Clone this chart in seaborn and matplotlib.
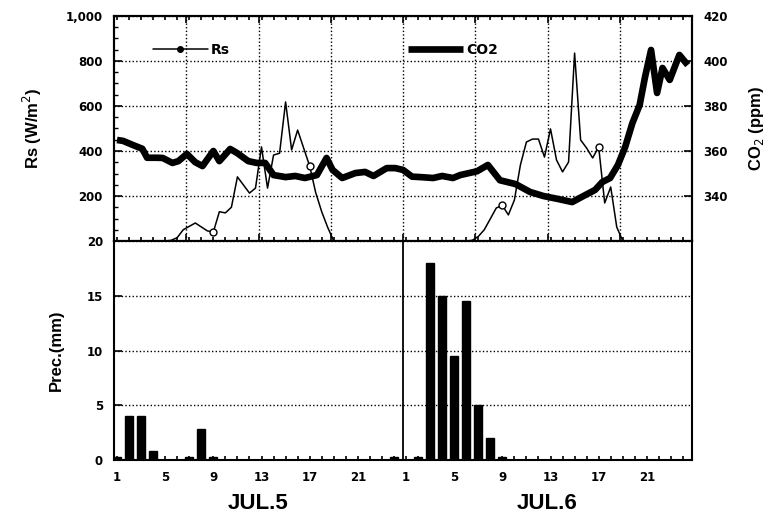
import matplotlib
matplotlib.use('Agg')
import matplotlib.pyplot as plt
import pandas as pd
import seaborn as sns
from matplotlib.lines import Line2D
from matplotlib.ticker import FixedLocator

# ---------------- data (hour index: 1-24 = JUL.5, 25-48 = JUL.6) ----------------
rs_time = [1, 2, 3, 4, 5, 5.5, 6, 6.5, 7.5, 8.5, 9, 9.5, 10, 10.5, 11, 12, 12.5, 13, 13.5,
           14, 14.5, 15, 15.5, 16, 16.5, 17, 17.5, 18, 18.5, 19, 20, 21, 22, 23, 24, 25, 26,
           27, 28, 29, 30, 30.5, 31, 31.5, 32.5, 33, 33.5, 34, 34.5, 35, 35.5, 36, 36.5, 37,
           37.5, 38, 38.5, 39, 39.5, 40, 40.5, 41, 41.5, 42, 42.5, 43, 44, 45, 46, 47, 48]
rs_value = [0, 0, 0, 0, 0, 3, 15, 50, 80, 45, 40, 130, 125, 150, 285, 213, 235, 418, 235,
            382, 390, 618, 405, 493, 413, 333, 215, 130, 60, 0, 0, 0, 0, 0, 0, 0, 0,
            0, 0, 0, 0, 3, 20, 50, 147, 158, 116, 182, 338, 440, 453, 453, 373, 498,
            360, 307, 351, 835, 449, 413, 369, 418, 169, 240, 62, 0, 0, 0, 0, 0, 0]
rs_marker_hours = [9, 17, 33, 41]

co2_time = [1.0, 1.5, 2.3, 3.1, 3.5, 4.3, 4.8, 5.6, 6.1, 6.8, 7.5, 8.1, 9.0, 9.5, 10.4, 11.0,
            11.9, 12.6, 13.3, 14.0, 15.0, 15.8, 16.6, 17.6, 18.4, 18.9, 19.7, 20.8, 21.6,
            22.3, 23.4, 24.1, 24.75, 25.5, 26.2, 27.25, 28.0, 28.9, 29.5, 30.9, 31.8, 32.8,
            34.1, 35.3, 36.4, 37.6, 38.8, 39.6, 40.7, 41.3, 41.95, 42.6, 43.2, 43.8, 44.4,
            44.85, 45.35, 45.85, 46.3, 46.9, 47.7, 48.4]
co2_value = [364.9, 364.5, 362.7, 361.0, 357.0, 357.0, 356.9, 354.7, 355.5, 358.7, 355.0,
             353.3, 360.0, 355.5, 360.9, 359.0, 355.5, 354.7, 354.7, 349.3, 348.4, 348.9,
             348.0, 349.3, 356.9, 351.6, 348.0, 350.2, 350.7, 348.9, 352.4, 352.4, 351.6,
             348.6, 348.4, 348.0, 348.9, 348.0, 349.3, 351.0, 353.8, 347.0, 345.3, 341.8,
             340.0, 338.7, 337.3, 339.6, 342.7, 346.2, 348.0, 353.8, 361.8, 372.4, 380.4,
             392.9, 404.9, 385.8, 396.9, 391.6, 402.7, 398.2]

prec_hour = [1, 2, 3, 4, 7, 8, 9, 24, 26, 27, 28, 29, 30, 31, 32, 33]
prec_mm = [0.3, 4.0, 4.0, 0.8, 0.3, 2.8, 0.3, 0.3, 0.3, 18.0, 15.0, 9.5, 14.5, 5.0, 2.0, 0.3]

hour_ticks = [1, 5, 9, 13, 17, 21, 25, 29, 33, 37, 41, 45]
hour_labels = ['1', '5', '9', '13', '17', '21', '1', '5', '9', '13', '17', '21']
day_labels = ['JUL.5', 'JUL.6']
day_centers = [12.75, 36.75]
rs_ticks = [200, 400, 600, 800, 1000]
rs_tick_labels = ['200', '400', '600', '800', '1,000']
co2_ticks = [340, 360, 380, 400, 420]
prec_ticks = [0, 5, 10, 15, 20]
day_boundary = 24.75
x_range = (0.75, 48.75)

# ---------------- style ----------------
sns.set_style('ticks')
plt.rcParams['font.family'] = ['DejaVu Sans']
plt.rcParams['axes.linewidth'] = 1.5
for k in ['text.color', 'axes.labelcolor', 'xtick.color', 'ytick.color', 'axes.edgecolor']:
    plt.rcParams[k] = 'black'
narrow = ['Liberation Sans Narrow', 'Liberation Sans', 'DejaVu Sans']
tick_font = dict(family='DejaVu Sans', weight='bold', size=8.5)
dot = (0, (1, 1.6))

fig = plt.figure(figsize=(7.84, 5.24), dpi=100)
ax1 = fig.add_axes([114 / 784, 1 - 241 / 524, 578 / 784, 225 / 524])
ax2 = ax1.twinx()
ax3 = fig.add_axes([114 / 784, 1 - 460 / 524, 578 / 784, 219 / 524])

# ---------------- top panel ----------------
rs_df = pd.DataFrame({'hour': rs_time, 'Rs': rs_value})
co2_df = pd.DataFrame({'hour': co2_time, 'CO2': co2_value})
marks = [i for i, t in enumerate(rs_time) if t in rs_marker_hours]

sns.lineplot(data=rs_df, x='hour', y='Rs', ax=ax1, color='black', lw=1.1,
             marker='o', markevery=marks, mfc='white', mec='black', ms=5, mew=1.0,
             zorder=3)
sns.lineplot(data=co2_df, x='hour', y='CO2', ax=ax2, color='black', lw=4.8,
             solid_joinstyle='round', solid_capstyle='butt', zorder=3)

ax1.set_xlim(*x_range)
ax1.set_ylim(0, 1000)
ax2.set_ylim(320, 420)

grid_x = [x_range[0] + 6 * k for k in range(1, 8)]
ax1.set_xticks(grid_x)
ax1.xaxis.set_minor_locator(FixedLocator(list(range(1, 49))))
ax1.tick_params(axis='x', which='major', direction='in', length=5, width=1.2,
                labelbottom=False, top=True)
ax1.tick_params(axis='x', which='minor', direction='in', length=3, width=1.2, top=True)
ax1.set_yticks(rs_ticks)
ax1.set_yticklabels(rs_tick_labels, fontdict=tick_font)
ax1.yaxis.set_minor_locator(FixedLocator(list(range(50, 1000, 50))))
ax1.tick_params(axis='y', which='major', direction='in', length=6, width=1.2, pad=8)
ax1.tick_params(axis='y', which='minor', direction='in', length=3, width=1.0)
ax1.grid(True, which='major', axis='both', color='black', lw=1.0, linestyle=dot)
ax1.set_xlabel('')
ax1.set_ylabel('Rs (W/m$^2$)', family=narrow, weight='bold', fontsize=12, labelpad=16)

ax2.set_yticks(co2_ticks)
ax2.set_yticklabels([str(v) for v in co2_ticks], fontdict=tick_font)
ax2.tick_params(axis='y', direction='in', length=6, width=1.2, pad=8)
ax2.set_ylabel('CO$_2$ (ppm)', family=narrow, weight='bold', fontsize=12, labelpad=14)
for sp in ax1.spines.values():
    sp.set_linewidth(1.5)

handles = [Line2D([], [], color='black', lw=1.1, marker='o', ms=4, mfc='black'),
           Line2D([], [], color='black', lw=4.8, solid_capstyle='butt')]
ax1.legend(handles, ['Rs', 'CO2'], loc='center left', bbox_to_anchor=(0.045, 0.85),
           ncol=2, frameon=False, handlelength=4.0, handletextpad=0.2,
           columnspacing=12.8, prop=dict(family='DejaVu Sans', weight='bold', size=10))

# ---------------- bottom panel ----------------
sns.barplot(x=prec_hour, y=prec_mm, ax=ax3, native_scale=True, color='black',
            saturation=1, width=0.65, errorbar=None, edgecolor='black', zorder=3)
ax3.set_xlim(*x_range)
ax3.set_ylim(0, 20)
ax3.set_xticks(hour_ticks)
ax3.set_xticklabels(hour_labels, fontdict=tick_font)
ax3.xaxis.set_minor_locator(FixedLocator(list(range(1, 49))))
ax3.tick_params(axis='x', which='major', direction='in', length=3, width=1.2, pad=8)
ax3.tick_params(axis='x', which='minor', direction='in', length=3, width=1.2)
ax3.set_yticks(prec_ticks)
ax3.set_yticklabels([str(v) for v in prec_ticks], fontdict=tick_font)
ax3.tick_params(axis='y', direction='in', length=6, width=1.2, pad=8)
ax3.grid(True, axis='y', color='black', lw=1.0, linestyle=dot)
ax3.axvline(day_boundary, color='black', lw=1.3, zorder=4)
ax3.set_xlabel('')
ax3.set_ylabel('Prec.(mm)', family=narrow, weight='bold', fontsize=12, labelpad=16)
for sp in ax3.spines.values():
    sp.set_linewidth(1.5)

for c, lab in zip(day_centers, day_labels):
    ax3.text(c, -0.2, lab, transform=ax3.get_xaxis_transform(), ha='center', va='center',
             family=narrow, weight='bold', fontsize=16)

fig.savefig('out.png', dpi=100, facecolor='white')
